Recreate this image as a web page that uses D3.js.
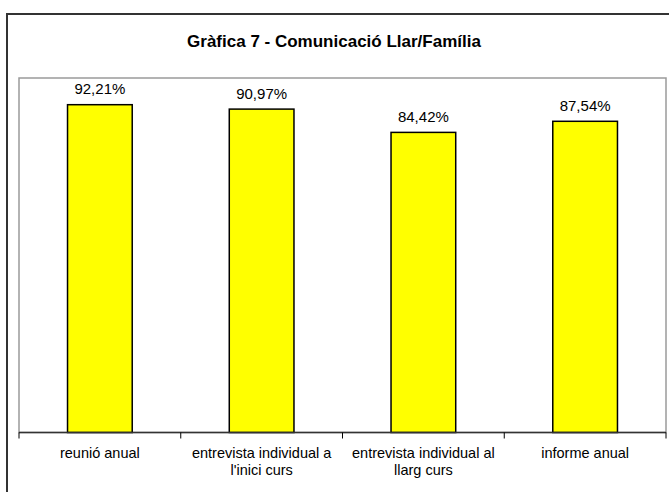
<!DOCTYPE html>
<html>
<head>
<meta charset="utf-8">
<script src="https://cdn.jsdelivr.net/npm/d3@7"></script>
<style>
  html, body { margin: 0; padding: 0; background: #fff; }
  svg { display: block; }
  text { font-family: "Liberation Sans", Arial, sans-serif; fill: #000; }
</style>
</head>
<body>
<svg id="chart" width="669" height="492"></svg>
<script>
const title = "Gràfica 7 - Comunicació Llar/Família";
const categories = ["reunió anual", "entrevista individual a l'inici curs", "entrevista individual al llarg curs", "informe anual"];
const categoryLines = [["reunió anual"], ["entrevista individual a", "l'inici curs"], ["entrevista individual al", "llarg curs"], ["informe anual"]];
const values = [92.21, 90.97, 84.42, 87.54];
const valueLabels = ["92,21%", "90,97%", "84,42%", "87,54%"];

const svg = d3.select("#chart");

// outer chart border (extends beyond the visible frame right/bottom)
svg.append("rect")
  .attr("x", 7).attr("y", 14)
  .attr("width", 700).attr("height", 520)
  .attr("fill", "#fff").attr("stroke", "#333").attr("stroke-width", 2);

svg.append("text")
  .attr("x", 334).attr("y", 46.5)
  .attr("text-anchor", "middle")
  .attr("font-size", 17).attr("font-weight", "bold")
  .text(title);

const plot = { left: 19, right: 666, top: 77, bottom: 432.5 };

const x = d3.scaleBand().domain(categories).range([plot.left, plot.right]).padding(0);
const y = d3.scaleLinear().domain([0, 100]).range([plot.bottom, plot.top]);

// plot area border
svg.append("rect")
  .attr("x", plot.left).attr("y", plot.top + 1)
  .attr("width", plot.right - plot.left).attr("height", plot.bottom - plot.top - 1)
  .attr("fill", "none").attr("stroke", "#9a9a9a").attr("stroke-width", 1.5);

const bw = x.bandwidth() * 0.4;
svg.append("g").selectAll("rect")
  .data(values)
  .join("rect")
  .attr("x", (d, i) => x(categories[i]) + (x.bandwidth() - bw) / 2)
  .attr("y", d => y(d))
  .attr("width", bw)
  .attr("height", d => y(0) - y(d))
  .attr("fill", "#ffff00")
  .attr("stroke", "#000")
  .attr("stroke-width", 1.5);

svg.append("g").selectAll("text")
  .data(values)
  .join("text")
  .attr("x", (d, i) => x(categories[i]) + x.bandwidth() / 2)
  .attr("y", d => y(d) - 10.5)
  .attr("text-anchor", "middle")
  .attr("font-size", 15)
  .text((d, i) => valueLabels[i]);

// category axis
const axis = svg.append("g");
axis.append("line")
  .attr("x1", plot.left).attr("x2", plot.right)
  .attr("y1", plot.bottom).attr("y2", plot.bottom)
  .attr("stroke", "#333").attr("stroke-width", 1.5);
const tickPos = categories.map(c => x(c)).concat([x(categories[categories.length - 1]) + x.bandwidth()]);
axis.selectAll("line.tick")
  .data(tickPos)
  .join("line")
  .attr("class", "tick")
  .attr("x1", d => d).attr("x2", d => d)
  .attr("y1", plot.bottom).attr("y2", plot.bottom + 6)
  .attr("stroke", "#000").attr("stroke-width", 1);

categories.forEach((c, i) => {
  const t = axis.append("text")
    .attr("x", x(c) + x.bandwidth() / 2)
    .attr("y", 458)
    .attr("text-anchor", "middle")
    .attr("font-size", 14.5);
  categoryLines[i].forEach((line, j) => {
    t.append("tspan")
      .attr("x", x(c) + x.bandwidth() / 2)
      .attr("dy", j === 0 ? 0 : 16.5)
      .text(line);
  });
});
</script>
</body>
</html>
